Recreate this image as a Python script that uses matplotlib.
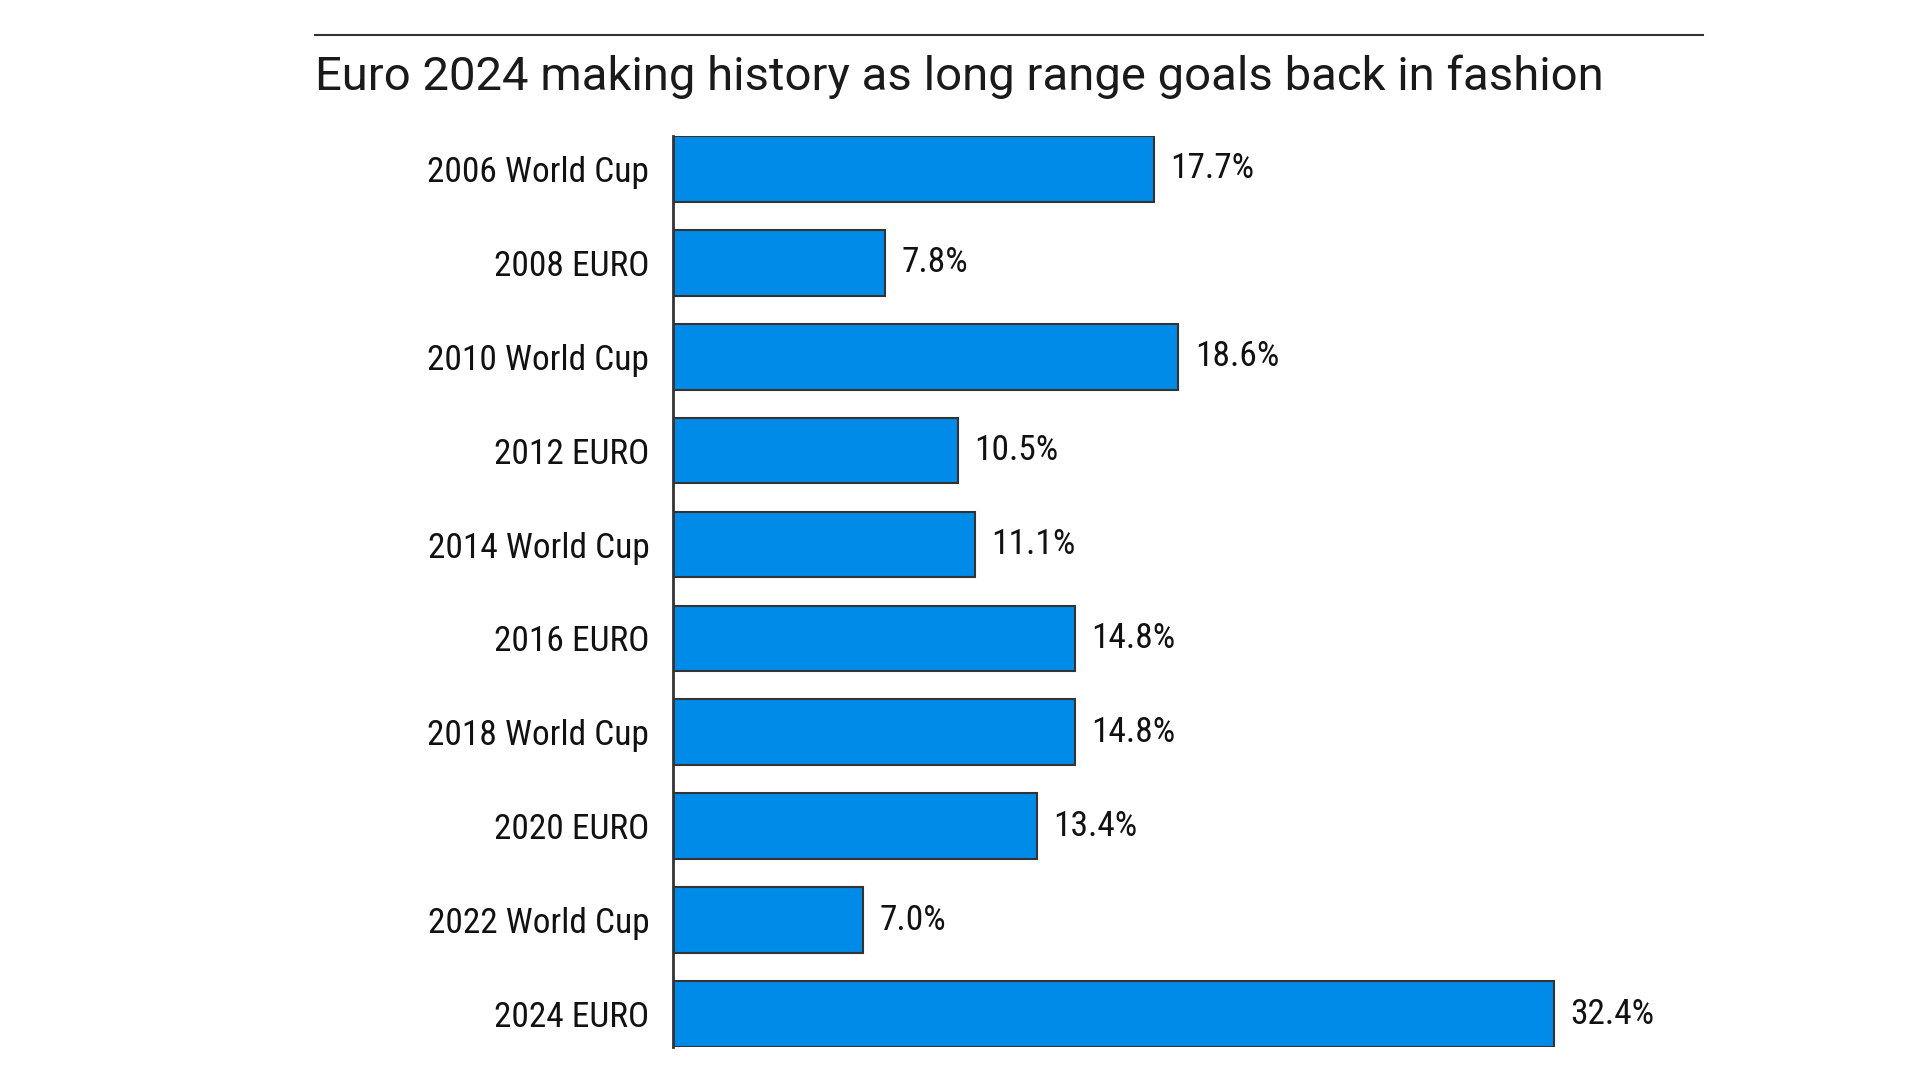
import matplotlib
matplotlib.use("Agg")
import matplotlib.pyplot as plt
import numpy as np

tournaments = ["2006 World Cup", "2008 EURO", "2010 World Cup", "2012 EURO",
               "2014 World Cup", "2016 EURO", "2018 World Cup", "2020 EURO",
               "2022 World Cup", "2024 EURO"]
long_range_pct = [17.7, 7.8, 18.6, 10.5, 11.1, 14.8, 14.8, 13.4, 7.0, 32.4]

title = "Euro 2024 making history as long range goals back in fashion"

label_font = ["Roboto Condensed", "DejaVu Sans"]
title_font = ["Roboto", "DejaVu Sans"]

fig = plt.figure(figsize=(19.2, 10.8), dpi=100)
ax = fig.add_axes([0.3505, 0.0306, 0.5365, 0.8435])

y = np.arange(len(tournaments))
ax.barh(y, long_range_pct, height=0.7, color="#008be8",
        edgecolor="#333333", linewidth=1.5)

ax.set_ylim(len(tournaments) - 0.65, -0.35)
ax.set_xlim(0, 37.9)
ax.set_yticks(y)
ax.set_yticklabels(tournaments, family=label_font, fontsize=25.5, color="#111111")
ax.tick_params(axis="y", length=0, pad=17)
ax.set_xticks([])

for s in ["top", "right", "bottom"]:
    ax.spines[s].set_visible(False)
ax.spines["left"].set_color("#333333")
ax.spines["left"].set_linewidth(2)

for yi, v in zip(y, long_range_pct):
    ax.text(v + 0.6, yi, "{:.1f}%".format(v), va="center", ha="left",
            family=label_font, fontsize=25.5, color="#111111")

# rule above the title
fig.add_artist(plt.Line2D([315 / 1920, 1703 / 1920], [1 - 35 / 1080, 1 - 35 / 1080],
                          color="#333333", linewidth=1.5))
fig.text(315 / 1920, 1 - 77 / 1080, title, family=title_font, fontsize=34,
         va="center", ha="left", color="#1a1a1a")

fig.savefig("out.png", dpi=100)
